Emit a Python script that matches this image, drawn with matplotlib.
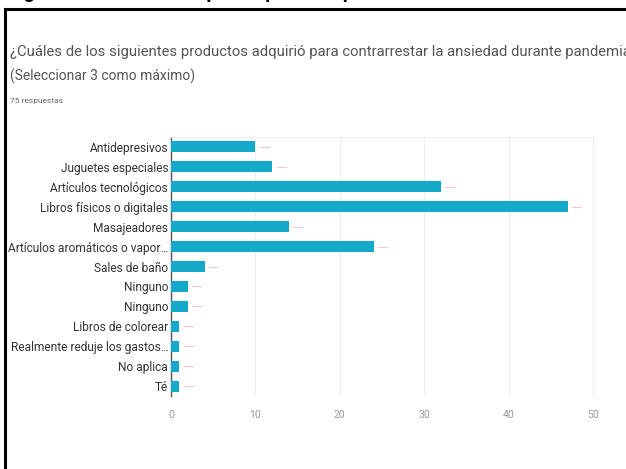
import matplotlib
matplotlib.use("Agg")
import matplotlib.pyplot as plt
from matplotlib.lines import Line2D

plt.rcParams['font.family'] = ['Roboto', 'DejaVu Sans']

# data
productos = ["Antidepresivos", "Juguetes especiales", "Artículos tecnológicos",
             "Libros físicos o digitales", "Masajeadores", "Artículos aromáticos o vapor…",
             "Sales de baño", "Ninguno", "Ninguno", "Libros de colorear",
             "Realmente reduje los gastos…", "No aplica", "Té"]
respuestas = [10, 12, 32, 47, 14, 24, 4, 2, 2, 1, 1, 1, 1]
xticks = [0, 10, 20, 30, 40, 50]

titulo = "¿Cuáles de los siguientes productos adquirió para contrarrestar la ansiedad durante pandemia"
subtitulo = "(Seleccionar 3 como máximo)"
n_resp = "75 respuestas"
figura = "Figura 11   Productos que adquirieron para contrarrestar la ansiedad en pandemia"

W, H = 626, 469
fig = plt.figure(figsize=(W/100., H/100.), dpi=100)
fig.patch.set_facecolor("white")

# caption above the frame, cut off by the top edge as in the source
fig.text(8/W, 1 + 1.5/H, figura, fontsize=14, fontweight="bold", color="black",
         va="baseline", ha="left")

# black frame (right and bottom run off the picture)
fig.add_artist(Line2D([5/W, 5/W], [0, 1 - 9/H], color="black", lw=2.2,
                      transform=fig.transFigure))
fig.add_artist(Line2D([5/W, 1], [1 - 9/H, 1 - 9/H], color="black", lw=2.2,
                      transform=fig.transFigure))

fig.text(10/W, 1 - 52/H, titulo, fontsize=10.7, color="#555555", va="center", ha="left")
fig.text(10/W, 1 - 76/H, subtitulo, fontsize=10, color="#555555", va="center", ha="left")
fig.text(10/W, 1 - 101/H, n_resp, fontsize=6, color="#666666", va="center", ha="left")

x0, x1 = 171, 593
y_top, y_bot = 137, 396
ax = fig.add_axes([x0/W, 1 - y_bot/H, (x1 - x0)/W, (y_bot - y_top)/H])

pos = list(range(len(productos)))
ax.barh(pos, respuestas, height=0.55, color="#14a9c9", zorder=3)
for p, v in zip(pos, respuestas):
    ax.plot([v + 0.5, v + 1.6], [p, p], color="#f2c6d2", lw=0.8, zorder=3)

ax.set_ylim(len(productos) - 0.5, -0.5)
ax.set_xlim(0, 50)
ax.set_yticks(pos)
ax.set_yticklabels(productos, fontsize=8.6, color="#333333")
ax.set_xticks(xticks)
ax.set_xticklabels([str(t) for t in xticks], fontsize=7.5, color="#999999")
ax.tick_params(axis="both", length=0)
ax.tick_params(axis="y", pad=2)
ax.tick_params(axis="x", pad=10)
ax.grid(axis="x", color="#eeeeee", lw=0.8, zorder=0)
for s in ["top", "right"]:
    ax.spines[s].set_color("#eeeeee")
    ax.spines[s].set_linewidth(0.8)
ax.spines["bottom"].set_visible(False)
ax.spines["left"].set_color("#555555")
ax.spines["left"].set_linewidth(1.0)

fig.savefig("out.png", dpi=100)
